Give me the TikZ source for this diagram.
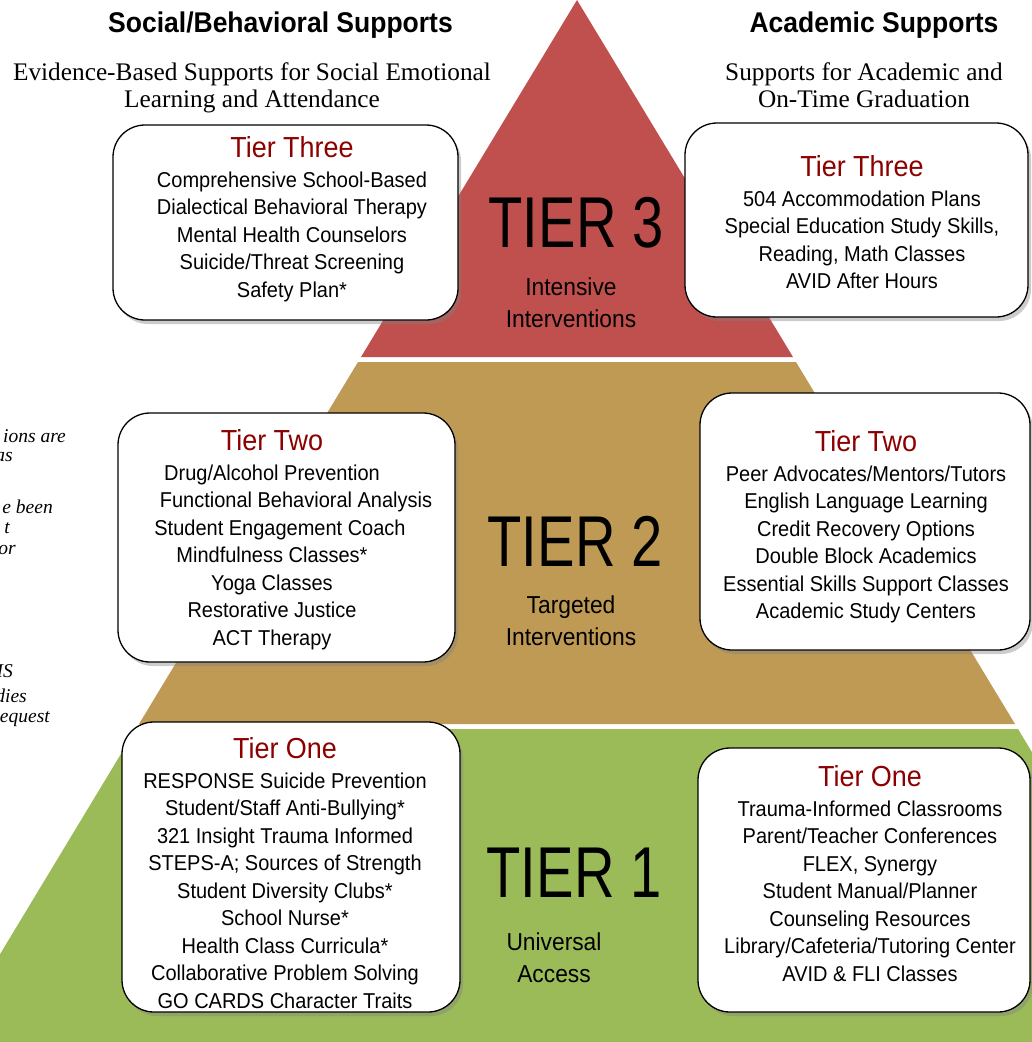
\documentclass[tikz,border=0pt]{standalone}
\usepackage{fontspec}
\setmainfont{Liberation Sans}[FakeStretch=0.93]
\newfontfamily\bigtierfont{Liberation Sans}[FakeStretch=0.78]
\newfontfamily\notefont{Liberation Serif}
\usetikzlibrary{shadows}
\definecolor{tierred}{RGB}{192,80,77}
\definecolor{tiertan}{RGB}{190,154,84}
\definecolor{tiergreen}{RGB}{155,187,89}
\definecolor{tiertitle}{RGB}{140,0,0}

\begin{document}
\begin{tikzpicture}[x=1pt,y=-1pt,
  tierbox/.style={draw=black,line width=1.3pt,fill=white,rounded corners=32pt,
    inner sep=0pt,drop shadow={shadow xshift=3pt,shadow yshift=-4pt,opacity=0.4}},
  tierlist/.style={align=center,anchor=north,inner sep=0pt,font=\fontsize{21.5}{27.5}\selectfont},
  bigtier/.style={anchor=base,inner sep=0pt,font=\bigtierfont\fontsize{72}{72}\selectfont},
  tiersub/.style={align=center,anchor=north,inner sep=0pt,font=\fontsize{24.5}{32}\selectfont},
  headline/.style={anchor=base,inner sep=0pt,font=\bfseries\fontsize{28.5}{30}\selectfont},
  subhead/.style={align=center,anchor=north,inner sep=0pt,font=\notefont\fontsize{25.3}{27.5}\selectfont},
  sidenote/.style={anchor=east,inner sep=0pt,font=\notefont\itshape\fontsize{19.5}{21}\selectfont}]
\newcommand{\tiername}[1]{{\color{tiertitle}\fontsize{29}{30}\selectfont #1}\\[2.5pt]}
\useasboundingbox (0,0) rectangle (1032,1042);
\clip (0,0) rectangle (1032,1042);
%
\fill[tierred] (577,0) -- (793,357) -- (361,357) -- cycle;
\fill[tiertan] (358,362) -- (796,362) -- (1015,724) -- (139,724) -- cycle;
\fill[tiergreen] (136,729) -- (1018,729) -- (1207,1042) -- (-53,1042) -- cycle;
%
\node[headline] (socialhead) at (280.5,32) {Social/Behavioral Supports};
\node[headline] (academichead) at (874,32) {Academic Supports};
\node[subhead] (socialsub) at (252,62) {Evidence-Based Supports for Social Emotional\\Learning and Attendance};
\node[subhead] (academicsub) at (864,62) {Supports for Academic and\\On-Time Graduation};
%
\node[sidenote] (noteA) at (66,436) {ions are};
\node[sidenote] (noteB) at (13,457) {as};
\node[sidenote] (noteC) at (53,507) {e been};
\node[sidenote] (noteD) at (10,528) {t};
\node[sidenote] (noteE) at (16,550) {or};
\node[sidenote] (noteF) at (13,671) {IS};
\node[sidenote] (noteG) at (27,696) {dies};
\node[sidenote] (noteH) at (50,719) {equest};
%
\node[bigtier] (tierthree) at (576,247) {TIER 3};
\node[tiersub] (tierthreesub) at (571,278) {Intensive\\Interventions};
\node[bigtier] (tiertwo) at (575,566) {TIER 2};
\node[tiersub] (tiertwosub) at (571,596) {Targeted\\Interventions};
\node[bigtier] (tierone) at (574,897) {TIER 1};
\node[tiersub] (tieronesub) at (554,933) {Universal\\Access};
%
\node[tierbox,minimum width=345pt,minimum height=195pt] (lboxthree) at (285.5,222.5) {};
\node[tierbox,minimum width=343pt,minimum height=194pt] (rboxthree) at (856.5,220) {};
\node[tierbox,minimum width=337pt,minimum height=249pt] (lboxtwo) at (286.5,537.5) {};
\node[tierbox,minimum width=330pt,minimum height=257pt] (rboxtwo) at (865,521.5) {};
\node[tierbox,minimum width=338pt,minimum height=290pt] (lboxone) at (291,867) {};
\node[tierbox,minimum width=332pt,minimum height=264pt] (rboxone) at (864,880) {};
%
\node[tierlist] (lthree) at (292,136) {\tiername{Tier Three}
  Comprehensive School-Based\\Dialectical Behavioral Therapy\\Mental Health Counselors\\
  Suicide/Threat Screening\\Safety Plan*};
\node[tierlist] (rthree) at (862,155) {\tiername{Tier Three}
  504 Accommodation Plans\\Special Education Study Skills,\\Reading, Math Classes\\AVID After Hours};
\node[tierlist] (ltwo) at (272,429) {\tiername{Tier Two}
  Drug/Alcohol Prevention\\\hspace*{48pt}Functional Behavioral Analysis\\
  \hspace*{16pt}Student Engagement Coach\\Mindfulness Classes*\\Yoga Classes\\
  Restorative Justice\\ACT Therapy};
\node[tierlist] (rtwo) at (866,430) {\tiername{Tier Two}
  Peer Advocates/Mentors/Tutors\\English Language Learning\\Credit Recovery Options\\
  Double Block Academics\\Essential Skills Support Classes\\Academic Study Centers};
\node[tierlist] (lone) at (285,737) {\tiername{Tier One}
  RESPONSE Suicide Prevention\\Student/Staff Anti-Bullying*\\321 Insight Trauma Informed\\
  STEPS-A; Sources of Strength\\Student Diversity Clubs*\\School Nurse*\\
  Health Class Curricula*\\Collaborative Problem Solving\\GO CARDS Character Traits};
\node[tierlist] (rone) at (870,765) {\tiername{Tier One}
  Trauma-Informed Classrooms\\Parent/Teacher Conferences\\FLEX, Synergy\\
  Student Manual/Planner\\Counseling Resources\\Library/Cafeteria/Tutoring Center\\
  AVID \& FLI Classes};
\end{tikzpicture}
\end{document}
